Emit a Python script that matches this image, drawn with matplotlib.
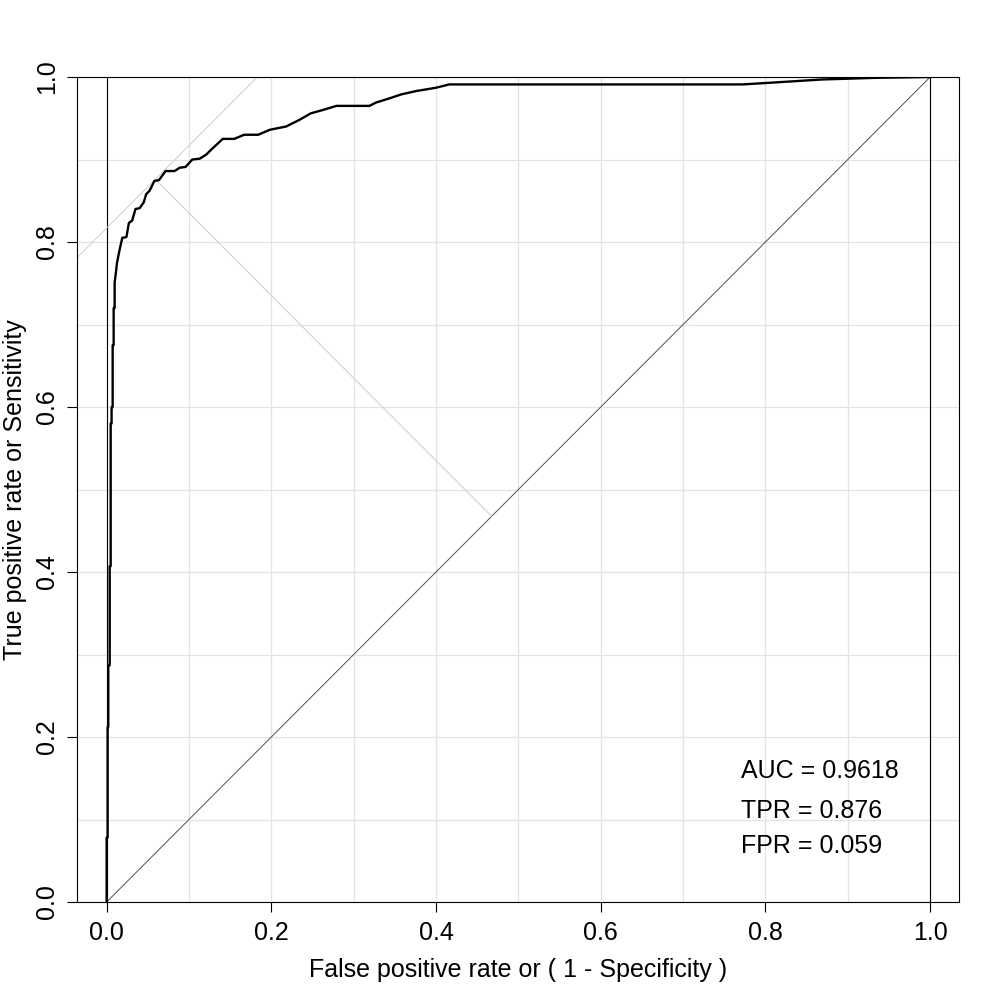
import matplotlib
matplotlib.use("Agg")
import matplotlib.pyplot as plt

plt.rcParams['font.family'] = ['Liberation Sans', 'DejaVu Sans']

# ROC curve points
fpr = [0, 0, 0.0012, 0.0012, 0.002, 0.002, 0.0037, 0.0037, 0.0049, 0.0049,
       0.006, 0.006, 0.0073, 0.0073, 0.0085, 0.0085, 0.0097, 0.0097, 0.011,
       0.0126, 0.0158, 0.019, 0.024, 0.027, 0.031, 0.035, 0.040, 0.045, 0.048,
       0.052, 0.058, 0.0635, 0.0716, 0.0825, 0.0886, 0.0959, 0.104, 0.113,
       0.121, 0.127, 0.141, 0.155, 0.167, 0.184, 0.198, 0.218, 0.234, 0.248,
       0.2625, 0.279, 0.319, 0.327, 0.343, 0.358, 0.376, 0.400, 0.416, 0.772,
       0.805, 0.837, 0.869, 0.902, 0.934, 1.0]
tpr = [0, 0.078, 0.078, 0.212, 0.212, 0.287, 0.287, 0.407, 0.407, 0.58,
       0.58, 0.60, 0.60, 0.675, 0.675, 0.72, 0.72, 0.751, 0.761,
       0.775, 0.791, 0.805, 0.806, 0.823, 0.826, 0.840, 0.841, 0.848, 0.858,
       0.862, 0.874, 0.875, 0.886, 0.886, 0.890, 0.891, 0.900, 0.901,
       0.906, 0.912, 0.925, 0.925, 0.930, 0.930, 0.936, 0.940, 0.948, 0.956,
       0.960, 0.965, 0.965, 0.969, 0.974, 0.979, 0.983, 0.987, 0.991, 0.991,
       0.993, 0.995, 0.997, 0.998, 0.999, 1.0]

auc = 0.9618
best_tpr = 0.876
best_fpr = 0.059

ticks = [0.0, 0.2, 0.4, 0.6, 0.8, 1.0]
grid_steps = [i / 10 for i in range(11)]

fs = 18

fig = plt.figure(figsize=(10, 10), dpi=100)
ax = fig.add_axes([0.077, 0.098, 0.882, 0.825])

# light grid every 0.1
for g in grid_steps:
    ax.axvline(g, color='#e3e3e3', lw=0.9, zorder=0)
    ax.axhline(g, color='#e3e3e3', lw=0.9, zorder=0)

# vertical reference lines at 0 and 1, chance diagonal
ax.axvline(0, color='black', lw=0.8, zorder=1)
ax.axvline(1, color='black', lw=0.8, zorder=1)
ax.plot([0, 1], [0, 1], color='#505050', lw=0.7, zorder=1)

# tangent through the best cutoff and perpendicular to the diagonal
ax.axline((best_fpr, best_tpr), slope=1, color='#cdcdcd', lw=0.7, zorder=1)
mid = (best_fpr + best_tpr) / 2
ax.plot([best_fpr, mid], [best_tpr, mid], color='#cdcdcd', lw=0.7, zorder=1)

# the ROC curve
ax.plot(fpr, tpr, color='black', lw=1.7, zorder=3)

ax.text(0.77, 0.159, 'AUC = %.4f' % auc, fontsize=fs, va='center', ha='left')
ax.text(0.77, 0.110, 'TPR = %.3f' % best_tpr, fontsize=fs, va='center', ha='left')
ax.text(0.77, 0.068, 'FPR = %.3f' % best_fpr, fontsize=fs, va='center', ha='left')

ax.set_xlim(-0.036, 1.035)
ax.set_ylim(0, 1)
ax.set_xticks(ticks)
ax.set_yticks(ticks)
ax.set_xticklabels(['%.1f' % t for t in ticks])
ax.set_yticklabels(['%.1f' % t for t in ticks], rotation=90, va='center')
ax.tick_params(direction='out', length=7, width=0.8, labelsize=fs)
ax.tick_params(axis='x', pad=7)
ax.tick_params(axis='y', pad=6)
for s in ax.spines.values():
    s.set_linewidth(0.8)

ax.set_xlabel('False positive rate or ( 1 - Specificity )', fontsize=fs, labelpad=9)
ax.set_ylabel('True positive rate or Sensitivity', fontsize=fs, labelpad=6)

fig.savefig('out.png', dpi=100)
